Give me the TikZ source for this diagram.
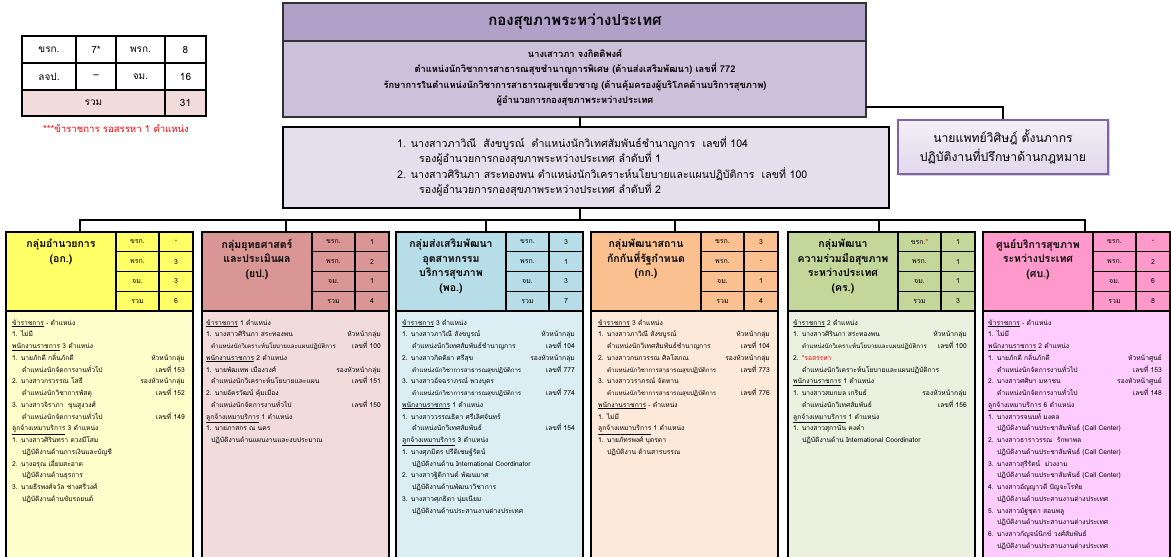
\documentclass[tikz,border=0pt]{standalone}
\usepackage{fontspec}
\setmainfont[Script=Thai]{Loma}
\usetikzlibrary{shadows}
\definecolor{toph}{HTML}{B1A0C7}
\definecolor{topl}{HTML}{CCC1DA}
\definecolor{secf}{HTML}{E4DFEC}
\definecolor{legf}{HTML}{E1D8EC}
\definecolor{legb}{HTML}{8064A2}
\definecolor{pinkrow}{HTML}{F2DCDB}
\definecolor{gah}{HTML}{FFFF66}\definecolor{gab}{HTML}{FFFFCC}
\definecolor{gbh}{HTML}{DA9694}\definecolor{gbb}{HTML}{F2DCDB}
\definecolor{gch}{HTML}{B7DEE8}\definecolor{gcb}{HTML}{DAEEF3}
\definecolor{gdh}{HTML}{FAC090}\definecolor{gdb}{HTML}{FDE9D9}
\definecolor{geh}{HTML}{C4D79B}\definecolor{geb}{HTML}{EBF1DE}
\definecolor{gfh}{HTML}{FF99CC}\definecolor{gfb}{HTML}{FFCCFF}
\newcount\grpln
\def\gx{0}\def\gn{g}\def\ia{6}\def\ib{16}
\def\lbA{ขรก.}
\newcommand\nrw[1]{{\fontsize{6.1}{8}\selectfont #1}}
\newcommand\startgrp[4]{\def\gx{#1}\def\gn{#2}\def\ia{#3}\def\ib{#4}\global\grpln=0\relax}
% #1: a = numbered/heading indent, b = continuation indent
\newcommand\tline[3]{%
  \global\advance\grpln by 1\relax
  \node[txt] (\gn l\the\grpln) at ({\gx+\csname i#1\endcsname},{313.25+11.75*\the\grpln}) {#2};
  \if\relax\detokenize{#3}\relax\else
    \node[txtr] (\gn r\the\grpln) at ({\gx+179},{313.25+11.75*\the\grpln}) {#3};
  \fi}
\newcommand\ghead[9]{%
  \path[bx, fill=#4] (#1,311) rectangle ++(187,260);
  \node[hcell, fill=#3, minimum width=110pt, minimum height=79pt] (#2t) at (#1,232) {};
  \node[gtitle] (#2n) at ({#1+55},239) {#5};
  \foreach \r/\lab/\val in {0/\lbA/#6,1/พรก./#7,2/จม./#8,3/รวม/#9}{
    \node[hcell, fill=#3, minimum width=43pt, minimum height=19.75pt, cellt] (#2a\r) at ({#1+110},{232+19.75*\r}) {\lab};
    \node[hcell, fill=#3, minimum width=34pt, minimum height=19.75pt, cellt] (#2b\r) at ({#1+153},{232+19.75*\r}) {\val};
  }%
}
\tikzset{
  bx/.style={draw=black, line width=1.4pt},
  conn/.style={draw=black, line width=1.8pt},
  txt/.style={anchor=base west, inner sep=0pt, font=\fontsize{6.7}{8}\selectfont},
  txtr/.style={txt, anchor=base east},
  hcell/.style={draw=black, line width=1.4pt, anchor=north west, inner sep=0pt, outer sep=0pt},
  cellt/.style={font=\fontsize{7}{8}\selectfont},
  gtitle/.style={anchor=north, align=center, inner sep=0pt, font=\bfseries\fontsize{10.5}{14.5}\selectfont},
  tc/.style={draw=black, line width=1.6pt, anchor=north west, inner sep=0pt, outer sep=0pt, font=\fontsize{10}{11}\selectfont},
  toptxt/.style={anchor=center, inner sep=0pt, font=\bfseries\fontsize{9.3}{10}\selectfont},
  sectxt/.style={anchor=base west, inner sep=0pt, font=\fontsize{10.6}{11}\selectfont},
}
\begin{document}
\begin{tikzpicture}[x=1pt,y=-1pt]
\useasboundingbox (0,0) rectangle (1171,557);
\clip (0,0) rectangle (1171,557);
\fill[white] (0,0) rectangle (1171,557);

% ---- summary table ----
\node[tc, minimum width=54pt, minimum height=27pt] (ta1) at (22,36) {ขรก.};
\node[tc, minimum width=40pt, minimum height=27pt] (ta2) at (76,36) {7*};
\node[tc, minimum width=49pt, minimum height=27pt] (ta3) at (116,36) {พรก.};
\node[tc, minimum width=41pt, minimum height=27pt] (ta4) at (165,36) {8};
\node[tc, minimum width=54pt, minimum height=27pt] (tb1) at (22,63) {ลจป.};
\node[tc, minimum width=40pt, minimum height=27pt] (tb2) at (76,63) {–};
\node[tc, minimum width=49pt, minimum height=27pt] (tb3) at (116,63) {จม.};
\node[tc, minimum width=41pt, minimum height=27pt] (tb4) at (165,63) {16};
\node[tc, fill=pinkrow, minimum width=143pt, minimum height=26pt] (tc1) at (22,90) {รวม};
\node[tc, fill=pinkrow, minimum width=41pt, minimum height=26pt] (tc2) at (165,90) {31};
\node[inner sep=0pt, text=red, font=\fontsize{9.6}{10}\selectfont] (note) at (116,129) {***ข้าราชการ รอสรรหา 1 ตำแหน่ง};

% ---- top box ----
\node[draw=black!80, line width=1.2pt, fill=topl, anchor=north west, minimum width=583pt, minimum height=114pt, inner sep=0pt, outer sep=0pt] (top) at (283,3) {};
\path[fill=toph, draw=black!80, line width=1.2pt] (283,3) rectangle (866,41);
\node[inner sep=0pt, font=\bfseries\fontsize{15}{16}\selectfont] (ttl) at (575,22) {กองสุขภาพระหว่างประเทศ};
\node[toptxt] (tl1) at (575,53) {นางเสาวภา จงกิตติพงศ์};
\node[toptxt] (tl2) at (575,69) {ตำแหน่งนักวิชาการสาธารณสุขชำนาญการพิเศษ (ด้านส่งเสริมพัฒนา) เลขที่ 772};
\node[toptxt] (tl3) at (575,85) {รักษาการในตำแหน่งนักวิชาการสาธารณสุขเชี่ยวชาญ (ด้านคุ้มครองผู้บริโภคด้านบริการสุขภาพ)};
\node[toptxt] (tl4) at (575,101) {ผู้อำนวยการกองสุขภาพระหว่างประเทศ};

% ---- deputies box ----
\node[draw=black, line width=1.4pt, fill=secf, anchor=north west, minimum width=606pt, minimum height=81pt, inner sep=0pt, outer sep=0pt] (sec) at (283,127) {};
\node[sectxt] (s1) at (397,147) {1. นางสาวภาวิณี\ \ สังขบูรณ์\ \ ตำแหน่งนักวิเทศสัมพันธ์ชำนาญการ\ \ เลขที่ 104};
\node[sectxt] (s2) at (419,162) {รองผู้อำนวยการกองสุขภาพระหว่างประเทศ ลำดับที่ 1};
\node[sectxt] (s3) at (397,178) {2. นางสาวศิรินภา สระทองพน ตำแหน่งนักวิเคราะห์นโยบายและแผนปฏิบัติการ\ \ เลขที่ 100};
\node[sectxt] (s4) at (419,193) {รองผู้อำนวยการกองสุขภาพระหว่างประเทศ ลำดับที่ 2};

% ---- legal advisor ----
\node[draw=legb, line width=1.2pt, top color=legf!40, bottom color=legf, minimum width=210pt, minimum height=54pt, inner sep=0pt, align=center, font=\fontsize{12.2}{19}\selectfont, drop shadow={opacity=0.35, shadow xshift=2pt, shadow yshift=-2pt}] (legal) at (1003,147) {นายแพทย์วิศิษฎ์ ตั้งนภากร\\ปฏิบัติงานที่ปรึกษาด้านกฎหมาย};

% ---- connectors ----
\coordinate (hub) at (580,220);
\draw[conn] (top.south -| hub) -- (sec.north -| hub);
\draw[conn] (sec.south -| hub) -- (hub);
\draw[conn] (top.east |- 0,107) -| (legal.north);

% ---- groups ----
\ghead{6}{ga}{gah}{gab}{กลุ่มอำนวยการ\\(อก.)}{-}{3}{3}{6}
\ghead{202}{gb}{gbh}{gbb}{กลุ่มยุทธศาสตร์\\และประเมินผล\\(ยป.)}{1}{2}{1}{4}
\ghead{396}{gc}{gch}{gcb}{กลุ่มส่งเสริมพัฒนา\\อุตสาหกรรม\\บริการสุขภาพ\\(พอ.)}{3}{1}{3}{7}
\ghead{591}{gd}{gdh}{gdb}{กลุ่มพัฒนาสถาน\\กักกันที่รัฐกำหนด\\(กก.)}{3}{-}{1}{4}
\def\lbA{ขรก.\textcolor{red}{*}}
\ghead{788}{ge}{geh}{geb}{กลุ่มพัฒนา\\ความร่วมมือสุขภาพ\\ระหว่างประเทศ\\(คร.)}{1}{1}{1}{3}
\def\lbA{ขรก.}
\ghead{983}{gf}{gfh}{gfb}{ศูนย์บริการสุขภาพ\\ระหว่างประเทศ\\(ศบ.)}{-}{2}{6}{8}

\draw[conn] (hub) -| ([xshift=74pt]gat.north west);
\draw[conn] (hub) -| ([xshift=84pt]gbt.north west);
\draw[conn] (hub) -| ([xshift=90pt]gct.north west);
\draw[conn] (hub) -| ([xshift=84pt]gdt.north west);
\draw[conn] (hub) -| ([xshift=91pt]get.north west);
\draw[conn] (hub) -| ([xshift=102pt]gft.north west);

% G1
\startgrp{6}{ga}{6}{16}
\tline{a}{\underline{ข้าราชการ} - ตำแหน่ง}{}
\tline{a}{1. ไม่มี}{}
\tline{a}{\underline{พนักงานราชการ} 3 ตำแหน่ง}{}
\tline{a}{1. นายภักดี กลิ่นภักดี}{หัวหน้ากลุ่ม}
\tline{b}{ตำแหน่งนักจัดการงานทั่วไป}{เลขที่ 153}
\tline{a}{2. นางสาวกรวรรณ โสธี}{รองหัวหน้ากลุ่ม}
\tline{b}{ตำแหน่งนักวิชาการพัสดุ}{เลขที่ 152}
\tline{a}{3. นางสาวจิราภา\ \ ขุนสูงวงศ์}{}
\tline{b}{ตำแหน่งนักจัดการงานทั่วไป}{เลขที่ 149}
\tline{a}{\underline{ลูกจ้างเหมาบริการ} 3 ตำแหน่ง}{}
\tline{a}{1. นางสาวศิรินทรา ดวงมีโสม}{}
\tline{b}{ปฏิบัติงานด้านการเงินและบัญชี}{}
\tline{a}{2. นางอรุณ เอี่ยมสะอาด}{}
\tline{b}{ปฏิบัติงานด้านธุรการ}{}
\tline{a}{3. นายธีรพงศ์จวัล ช่างศรีวงศ์}{}
\tline{b}{ปฏิบัติงานด้านขับรถยนต์}{}

% G2
\startgrp{202}{gb}{4}{9}
\tline{a}{\underline{ข้าราชการ} 1 ตำแหน่ง}{}
\tline{a}{1. นางสาวศิรินภา สระทองพน}{หัวหน้ากลุ่ม}
\tline{b}{\nrw{ตำแหน่งนักวิเคราะห์นโยบายและแผนปฏิบัติการ}}{เลขที่ 100}
\tline{a}{\underline{พนักงานราชการ} 2 ตำแหน่ง}{}
\tline{a}{1. นายพัฒเทพ เมืองวงศ์}{รองหัวหน้ากลุ่ม}
\tline{b}{ตำแหน่งนักวิเคราะห์นโยบายและแผน}{เลขที่ 151}
\tline{a}{2. นายอัครวัฒน์ คุ้มเมือง}{}
\tline{b}{ตำแหน่งนักจัดการงานทั่วไป}{เลขที่ 150}
\tline{a}{\underline{ลูกจ้างเหมาบริการ} 1 ตำแหน่ง}{}
\tline{a}{1. นายภาสกร ณ นคร}{}
\tline{b}{ปฏิบัติงานด้านแผนงานและงบประมาณ}{}

% G3
\startgrp{396}{gc}{6}{16}
\tline{a}{\underline{ข้าราชการ} 3 ตำแหน่ง}{}
\tline{a}{1. นางสาวภาวิณี สังขบูรณ์}{หัวหน้ากลุ่ม}
\tline{b}{ตำแหน่งนักวิเทศสัมพันธ์ชำนาญการ}{เลขที่ 104}
\tline{a}{2. นางสาวกิตติยา ศรีสุข}{รองหัวหน้ากลุ่ม}
\tline{b}{\nrw{ตำแหน่งนักวิชาการสาธารณสุขปฏิบัติการ}}{เลขที่ 777}
\tline{a}{3. นางสาวอัจฉราภรณ์ พวงบุตร}{}
\tline{b}{\nrw{ตำแหน่งนักวิชาการสาธารณสุขปฏิบัติการ}}{เลขที่ 774}
\tline{a}{\underline{พนักงานราชการ} 1 ตำแหน่ง}{}
\tline{a}{1. นางสาววรรณธิดา ศรีเลิศจันทร์}{}
\tline{b}{ตำแหน่งนักวิเทศสัมพันธ์}{เลขที่ 154}
\tline{a}{\underline{ลูกจ้างเหมาบริการ} 3 ตำแหน่ง}{}
\tline{a}{1. นางศุภมิตร ปรีดิเชษฐ์รัตน์}{}
\tline{b}{ปฏิบัติงานด้าน International Coordinator}{}
\tline{a}{2. นางสาวฐิติกานต์ พัฒนมาศ}{}
\tline{b}{ปฏิบัติงานด้านพัฒนาวิชาการ}{}
\tline{a}{3. นางสาวศุภธิดา นุ่มเนียม}{}
\tline{b}{ปฏิบัติงานด้านประสานงานต่างประเทศ}{}

% G4
\startgrp{591}{gd}{7}{16}
\tline{a}{\underline{ข้าราชการ} 3 ตำแหน่ง}{}
\tline{a}{1. นางสาวภาวิณี สังขบูรณ์}{หัวหน้ากลุ่ม}
\tline{b}{ตำแหน่งนักวิเทศสัมพันธ์ชำนาญการ}{เลขที่ 104}
\tline{a}{2. นางสาวกนกวรรณ ศิลโสภณ}{รองหัวหน้ากลุ่ม}
\tline{b}{\nrw{ตำแหน่งนักวิชาการสาธารณสุขปฏิบัติการ}}{เลขที่ 773}
\tline{a}{3. นางสาววราภรณ์ จัดหาน}{}
\tline{b}{\nrw{ตำแหน่งนักวิชาการสาธารณสุขปฏิบัติการ}}{เลขที่ 776}
\tline{a}{\underline{พนักงานราชการ} - ตำแหน่ง}{}
\tline{a}{1. ไม่มี}{}
\tline{a}{\underline{ลูกจ้างเหมาบริการ} 1 ตำแหน่ง}{}
\tline{a}{1. นายภัทรพงศ์ บุตรดา}{}
\tline{b}{ปฏิบัติงาน ด้านสารบรรณ}{}

% G5
\startgrp{788}{ge}{5}{14}
\tline{a}{\underline{ข้าราชการ} 2 ตำแหน่ง}{}
\tline{a}{1. นางสาวศิรินภา สระทองพน}{หัวหน้ากลุ่ม}
\tline{b}{\nrw{ตำแหน่งนักวิเคราะห์นโยบายและแผนปฏิบัติการ}}{เลขที่ 100}
\tline{a}{2. \textcolor{red}{*รอสรรหา}}{}
\tline{b}{ตำแหน่งนักวิเคราะห์นโยบายและแผนปฏิบัติการ}{}
\tline{a}{\underline{พนักงานราชการ} 1 ตำแหน่ง}{}
\tline{a}{1. นางสาวสมกมล เกริมธ์}{รองหัวหน้ากลุ่ม}
\tline{b}{ตำแหน่งนักวิเทศสัมพันธ์}{เลขที่ 156}
\tline{a}{\underline{ลูกจ้างเหมาบริการ} 1 ตำแหน่ง}{}
\tline{a}{1. นางสาวสุกานัน คงคำ}{}
\tline{b}{ปฏิบัติงานด้าน International Coordinator}{}

% G6
\startgrp{983}{gf}{5}{14}
\tline{a}{\underline{ข้าราชการ} - ตำแหน่ง}{}
\tline{a}{1. ไม่มี}{}
\tline{a}{\underline{พนักงานราชการ} 2 ตำแหน่ง}{}
\tline{a}{1. นายภักดี กลิ่นภักดี}{หัวหน้าศูนย์}
\tline{b}{ตำแหน่งนักจัดการงานทั่วไป}{เลขที่ 153}
\tline{a}{2. นางสาวศศิษา มหาชน}{รองหัวหน้าศูนย์}
\tline{b}{ตำแหน่งนักจัดการงานทั่วไป}{เลขที่ 148}
\tline{a}{\underline{ลูกจ้างเหมาบริการ} 6 ตำแหน่ง}{}
\tline{a}{1. นางสาวรจนนท์ มงคล}{}
\tline{b}{ปฏิบัติงานด้านประชาสัมพันธ์ (Call Center)}{}
\tline{a}{2. นางสาวธาราวรรณ\ \ รักพาพล}{}
\tline{b}{ปฏิบัติงานด้านประชาสัมพันธ์ (Call Center)}{}
\tline{a}{3. นางสาวสุรีรัตน์\ \ ม่วงงาม}{}
\tline{b}{ปฏิบัติงานด้านประชาสัมพันธ์ (Call Center)}{}
\tline{a}{4. นางสาวอัญญาวดี ปัญจะโรทัย}{}
\tline{b}{ปฏิบัติงานด้านประสานงานต่างประเทศ}{}
\tline{a}{5. นางสาวมัฐชุดา สอนพลู}{}
\tline{b}{ปฏิบัติงานด้านประสานงานต่างประเทศ}{}
\tline{a}{6. นางสาวกัญจน์นิกข์ วงศ์สัมพันธ์}{}
\tline{b}{ปฏิบัติงานด้านประสานงานต่างประเทศ}{}
\end{tikzpicture}
\end{document}
